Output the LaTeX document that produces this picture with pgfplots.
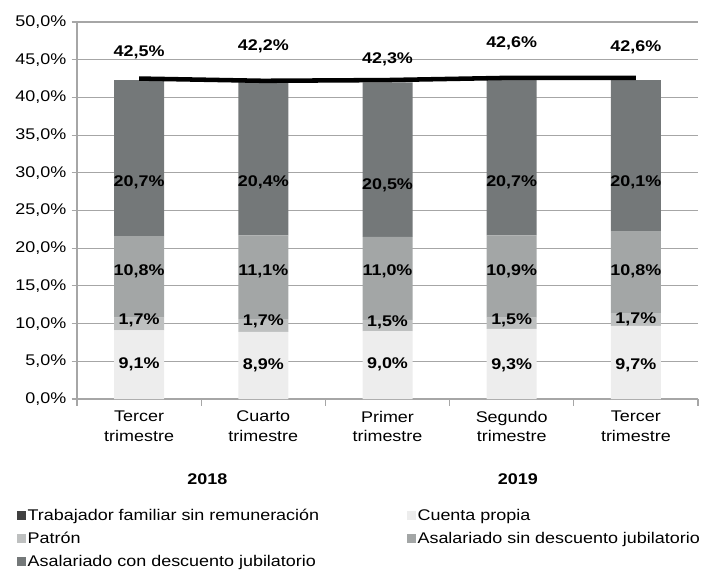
\documentclass[border=0pt]{standalone}
\usepackage{fontspec}
\setmainfont{Liberation Sans}[FakeStretch=1.16]
\usepackage{pgfplots}
\pgfplotsset{compat=1.18}
\usepackage{xcolor}
\definecolor{cprop}{HTML}{EDEDED}
\definecolor{patron}{HTML}{BEC0C0}
\definecolor{asin}{HTML}{A3A6A6}
\definecolor{acon}{HTML}{747879}
\definecolor{trab}{HTML}{404040}
\definecolor{gridc}{HTML}{A6A6A6}

% bar segments (per cent)
\pgfplotstableread{
x cuenta patron sin con
0 9.1 1.7 10.8 20.7
1 8.9 1.7 11.1 20.4
2 9.0 1.5 11.0 20.5
3 9.3 1.5 10.9 20.7
4 9.7 1.7 10.8 20.1
}\segs

% total (line)
\pgfplotstableread{
x total
0 42.5
1 42.2
2 42.3
3 42.6
4 42.6
}\totals

% label positions: x, y where drawn, value shown
\pgfplotstableread{
x y v
0 4.6 9.1
1 4.5 8.9
2 4.6 9.0
3 4.5 9.3
4 4.5 9.7
0 10.4 1.7
1 10.3 1.7
2 10.2 1.5
3 10.4 1.5
4 10.6 1.7
0 17.0 10.8
1 17.0 11.1
2 17.0 11.0
3 17.0 10.9
4 17.0 10.8
0 28.8 20.7
1 28.8 20.4
2 28.4 20.5
3 28.8 20.7
4 28.8 20.1
0 46.0 42.5
1 46.8 42.2
2 45.1 42.3
3 47.2 42.6
4 46.6 42.6
}\labs

\begin{document}
\fontsize{11.6}{14.6}\selectfont
\begin{tikzpicture}
\pgfplotsset{
  base/.style={
    scale only axis,
    width=465.75pt, height=282.75pt,
    xmin=-0.5, xmax=4.5,
    ymin=0, ymax=50,
    /pgf/number format/assume math mode=true,
  },
}
\path (-57.75pt,-127.5pt) rectangle (468.75pt,299.25pt);
\begin{axis}[
  base,
  ybar stacked,
  bar width=37.5pt,
  axis lines*=left,
  axis line style={gridc, line width=0.8pt},
  ytick={0,5,...,50},
  yticklabel={\pgfmathprintnumber[fixed,fixed zerofill,precision=1,use comma]{\tick}\%},
  ymajorgrids,
  grid style={gridc, line width=0.8pt},
  xtick={0,1,2,3,4},
  xticklabels={{Tercer\\trimestre},{Cuarto\\trimestre},{Primer\\trimestre},{Segundo\\trimestre},{Tercer\\trimestre}},
  xticklabel style={align=center, yshift=-1pt},
  major x tick style={draw=none},
  minor xtick={-0.5,0.5,...,4.5},
  minor x tick style={gridc, line width=0.8pt},
  tick align=outside,
  major tick length=4pt,
  minor tick length=5pt,
  y tick style={gridc, line width=0.8pt},
  legend columns=2,
  legend cell align=left,
  legend style={
    at={(-0.0966,-0.287)}, anchor=north west,
    draw=none, fill=none, inner sep=0pt,
    row sep=5pt,
    /tikz/column 2/.style={column sep=65pt},
    nodes={inner sep=1pt},
  },
  legend image code/.code={\fill[#1,draw=none] (0pt,-3.4pt) rectangle (6.8pt,3.4pt);},
]
\addlegendimage{fill=trab}
\addlegendentry{Trabajador familiar sin remuneración}
\addplot[fill=cprop, draw=none] table[x=x, y=cuenta] {\segs};
\addlegendentry{Cuenta propia}
\addplot[fill=patron, draw=none] table[x=x, y=patron] {\segs};
\addlegendentry{Patrón}
\addplot[fill=asin, draw=none] table[x=x, y=sin] {\segs};
\addlegendentry{Asalariado sin descuento jubilatorio}
\addplot[fill=acon, draw=none] table[x=x, y=con] {\segs};
\addlegendentry{Asalariado con descuento jubilatorio}
\end{axis}
\begin{axis}[
  base,
  hide axis,
  clip=false,
]
\addplot[black, line width=3.4pt, mark=none] table[x=x, y=total] {\totals};
\addplot[only marks, mark=none,
  point meta=\thisrow{v},
  nodes near coords={\bfseries\pgfmathprintnumber[fixed,fixed zerofill,precision=1,use comma]{\pgfplotspointmeta}\%},
  every node near coord/.append style={anchor=center, inner sep=0pt},
] table[x=x, y=y] {\labs};
\node[font=\bfseries] at (axis cs:0.55,0) [yshift=-60pt] {2018};
\node[font=\bfseries] at (axis cs:3.05,0) [yshift=-60pt] {2019};
\end{axis}
\end{tikzpicture}
\end{document}
